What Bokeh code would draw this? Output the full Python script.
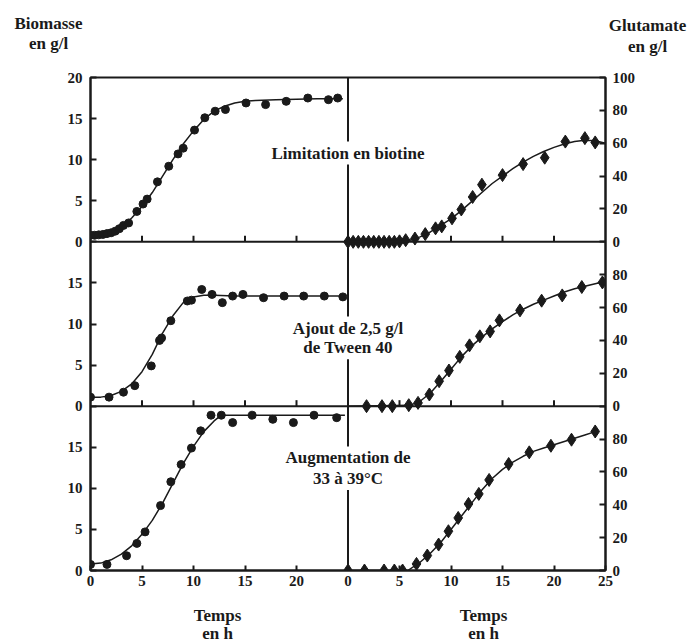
from bokeh.plotting import figure
from bokeh.models import Range1d, LinearAxis, FixedTicker, Span, Label
from bokeh.core.properties import value
from bokeh.embed import file_html
from bokeh.resources import INLINE

FONT = "Liberation Serif"
INK = "#1a1a1a"
TICK_FONT_SIZE = "15px"
TEXT_FONT_SIZE = "17px"

# ---------------- data ----------------
# Panel 1 : Limitation en biotine
t_bio1 = [0, 0.4, 0.8, 1.2, 1.6, 2.0, 2.4, 2.8, 3.2, 3.7, 4.5, 5.1, 5.5, 6.5, 7.6, 8.5, 9.0, 10.1, 11.1, 12.1, 13.1, 15.1, 17.0, 19.0, 21.1, 23.1, 24.0]
bio1 = [0.8, 0.8, 0.85, 0.9, 1.0, 1.1, 1.3, 1.6, 2.0, 2.3, 3.7, 4.6, 5.2, 7.3, 9.2, 10.7, 11.4, 13.6, 15.1, 15.9, 16.1, 16.9, 16.7, 17.1, 17.5, 17.3, 17.5]
tc_bio1 = [0, 1, 2, 3, 4, 5, 6, 7, 8, 9, 10, 11, 12, 13, 14, 15, 16, 18, 20, 22, 24.5]
c_bio1 = [0.8, 0.9, 1.2, 1.8, 2.9, 4.3, 6.0, 8.0, 10.0, 11.9, 13.5, 14.9, 15.9, 16.5, 16.9, 17.1, 17.2, 17.3, 17.35, 17.4, 17.4]

t_glu1 = [0, 0.5, 1.0, 1.5, 2.0, 2.5, 3.0, 3.5, 4.0, 4.5, 5.0, 5.6, 6.5, 7.5, 8.5, 9.1, 10.1, 11.0, 12.1, 13.0, 15.0, 17.0, 19.1, 21.1, 23.0, 24.0]
glu1 = [0, 0, 0, 0, 0, 0, 0, 0, 0, 0, 0.3, 1, 2, 4.7, 8.2, 9.4, 14.3, 19.7, 27.3, 34.8, 40.6, 47.3, 51.2, 61, 63.1, 60.5]
tc_glu1 = [0, 5.5, 6, 7, 8, 9, 10, 11, 12, 13, 14, 15, 16, 17, 18, 19, 20, 21, 22, 23, 24, 25]
c_glu1 = [0, 0, 1, 3, 6, 10, 14, 19, 24.5, 30, 35.5, 40, 44.5, 48.5, 52, 55, 57.5, 59.5, 61, 61.8, 61.5, 60]

# Panel 2 : Ajout de 2,5 g/l de Tween 40
t_bio2 = [0, 1.8, 3.2, 4.3, 5.9, 6.7, 6.9, 7.8, 9.4, 9.8, 10.8, 11.8, 12.8, 13.8, 14.8, 16.8, 18.8, 20.7, 22.7, 24.5]
bio2 = [1.1, 1.1, 1.7, 2.5, 4.9, 8.0, 8.3, 10.4, 12.8, 12.9, 14.2, 13.6, 12.6, 13.4, 13.6, 13.2, 13.4, 13.4, 13.4, 13.3]
tc_bio2 = [0, 1, 2, 3, 4, 5, 6, 7, 8, 9, 10, 11, 12, 14, 16, 20, 24.7]
c_bio2 = [1.1, 1.1, 1.3, 1.8, 2.7, 4.2, 6.3, 8.9, 11.0, 12.6, 13.3, 13.5, 13.5, 13.4, 13.4, 13.4, 13.4]

t_glu2 = [1.8, 3.3, 4.3, 5.9, 6.8, 7.9, 8.85, 9.8, 10.85, 11.8, 12.8, 13.8, 14.7, 16.7, 18.8, 20.8, 22.7, 24.7]
glu2 = [0, 0, 0, 0.6, 2, 7.1, 15.2, 21.7, 30, 37, 42.5, 45.5, 52.2, 58.3, 64.2, 67.4, 72.5, 75.3]
tc_glu2 = [0, 6, 7, 8, 9, 10, 11, 12, 13, 14, 15, 16, 17, 18, 19, 20, 21, 22, 23, 24, 25]
c_glu2 = [0, 0.5, 3, 8, 15, 22.5, 30, 36.5, 42, 47, 51.5, 55.5, 59, 62, 64.5, 67, 69.5, 71.5, 73, 74.5, 76]

# Panel 3 : Augmentation de 33 à 39°C
t_bio3 = [0, 1.6, 3.5, 4.5, 5.3, 6.8, 7.8, 8.8, 9.8, 10.7, 11.7, 12.7, 13.8, 15.7, 17.7, 19.7, 21.7, 23.9]
bio3 = [0.74, 0.74, 1.8, 3.3, 4.7, 7.9, 10.8, 12.9, 14.9, 17.0, 18.9, 18.9, 18.0, 18.9, 18.4, 18.0, 18.9, 18.6]
tc_bio3 = [0, 1, 2, 3, 4, 5, 6, 7, 8, 9, 10, 11, 12, 12.7, 14, 16, 18, 20, 22, 24.7]
c_bio3 = [0.8, 0.9, 1.3, 2.0, 3.0, 4.4, 6.1, 8.2, 10.6, 13.0, 15.1, 16.9, 18.2, 18.9, 18.9, 18.9, 18.9, 18.9, 18.9, 18.9]

t_glu3 = [0, 1.6, 3.5, 4.5, 5.3, 6.65, 7.7, 8.8, 9.75, 10.7, 11.7, 12.7, 13.7, 15.6, 17.6, 19.7, 21.7, 24.0]
glu3 = [0, 0, 0, 0, 0, 4, 9.1, 15.8, 23.9, 32, 40.5, 46.6, 55.1, 64.8, 71.9, 75.9, 79.6, 84.6]
tc_glu3 = [0, 5.8, 7, 8, 9, 10, 11, 12, 13, 14, 15, 16, 17, 18, 19, 20, 21, 22, 23, 24]
c_glu3 = [0, 0, 5, 10.5, 17, 25, 33, 41, 49, 56, 61.5, 66, 69.5, 72.5, 74.5, 76.5, 78.5, 80.5, 82.5, 84.5]

# tick labels
time_ticks_left = [0, 5, 10, 15, 20]
time_ticks_right = [0, 5, 10, 15, 20, 25]
bio_ticks = [[0, 5, 10, 15, 20], [0, 5, 10, 15], [0, 5, 10, 15]]    # top, middle, bottom
glu_ticks = [[0, 20, 40, 60, 80, 100], [0, 20, 40, 60, 80], [0, 20, 40, 60, 80]]

panel_texts = [["Limitation en biotine"], ["Ajout de 2,5 g/l", "de Tween 40"], ["Augmentation de", "33 à 39°C"]]
panel_text_y = [[10.8], [9.5, 7.1], [13.7, 11.2]]

bio_axis_title = ["Biomasse", "en g/l"]
glu_axis_title = ["Glutamate", "en g/l"]
time_axis_title = ["Temps", "en h"]

# ---------------- layout constants ----------------
W = 688
T_SPAN = 25          # width of each half in hours
B_SPAN = 20          # biomass range of one panel
G_SPAN = 100         # glutamate range of one panel
N_PANELS = 3
TICK_LEN = 6 / (493 / (N_PANELS * B_SPAN))   # 6 px in stacked biomass units


def style_axis(ax, standoff=7):
    ax.major_tick_in = 6
    ax.major_tick_out = 0
    ax.minor_tick_line_color = None
    ax.axis_line_width = 2
    ax.axis_line_color = INK
    ax.major_tick_line_width = 2
    ax.major_tick_line_color = INK
    ax.major_label_standoff = standoff
    ax.major_label_text_font = FONT
    ax.major_label_text_font_style = "bold"
    ax.major_label_text_font_size = TICK_FONT_SIZE
    ax.major_label_text_color = INK


# ---------------- main figure (three stacked panels) ----------------
p = figure(width=W, height=540, x_range=Range1d(0, 2 * T_SPAN), y_range=Range1d(0, N_PANELS * B_SPAN),
           output_backend="svg", toolbar_location=None,
           x_axis_location=None, y_axis_location=None,
           min_border_left=90, min_border_right=83, min_border_top=17, min_border_bottom=30)
p.grid.visible = False
p.outline_line_color = INK
p.outline_line_width = 2
p.background_fill_color = "white"
p.border_fill_color = "white"

p.extra_x_ranges = {"g": Range1d(-T_SPAN, T_SPAN)}
p.extra_y_ranges = {
    "b1": Range1d(-2 * B_SPAN, B_SPAN), "b2": Range1d(-B_SPAN, 2 * B_SPAN),
    "g1": Range1d(-2 * G_SPAN, G_SPAN), "g2": Range1d(-G_SPAN, 2 * G_SPAN), "g3": Range1d(0, 3 * G_SPAN),
}

# left axis (biomass, stacked)
l_pos, l_lab = [], {}
for k, ticks in enumerate(bio_ticks):
    off = (N_PANELS - 1 - k) * B_SPAN
    for t in ticks:
        l_pos.append(off + t)
        l_lab[off + t] = str(t)
la = LinearAxis(ticker=FixedTicker(ticks=l_pos), major_label_overrides=l_lab)
style_axis(la, 8)
p.add_layout(la, "left")

# right axis (glutamate, stacked)
r_pos, r_lab = [], {}
for k, ticks in enumerate(glu_ticks):
    off = (N_PANELS - 1 - k) * G_SPAN
    for t in ticks:
        r_pos.append(off + t)
        r_lab[off + t] = str(t)
ra = LinearAxis(ticker=FixedTicker(ticks=r_pos), major_label_overrides=r_lab, y_range_name="g3")
style_axis(ra, 7)
p.add_layout(ra, "right")

# bottom axis (time, two halves)
x_pos = list(time_ticks_left) + [T_SPAN + t for t in time_ticks_right]
x_lab = {t: str(t) for t in time_ticks_left}
x_lab.update({T_SPAN + t: str(t) for t in time_ticks_right})
ba = LinearAxis(ticker=FixedTicker(ticks=x_pos), major_label_overrides=x_lab)
style_axis(ba, 5)
ba.major_tick_in = 5
p.add_layout(ba, "below")

# panel separators and central divider
for k in range(1, N_PANELS):
    p.add_layout(Span(location=k * B_SPAN, dimension="width", line_color=INK, line_width=2))
p.add_layout(Span(location=T_SPAN, dimension="height", line_color=INK, line_width=2))

# time ticks on the inner panel boundaries
inner_x = [x for x in x_pos if 0 < x < 2 * T_SPAN and x != T_SPAN]
for k in range(1, N_PANELS):
    base = k * B_SPAN
    p.segment(x0=inner_x, y0=[base] * len(inner_x), x1=inner_x, y1=[base + TICK_LEN] * len(inner_x),
              line_color=INK, line_width=2)

panels = [
    ("b1", "g1", t_bio1, bio1, tc_bio1, c_bio1, t_glu1, glu1, tc_glu1, c_glu1),
    ("b2", "g2", t_bio2, bio2, tc_bio2, c_bio2, t_glu2, glu2, tc_glu2, c_glu2),
    ("default", "g3", t_bio3, bio3, tc_bio3, c_bio3, t_glu3, glu3, tc_glu3, c_glu3),
]

for k, (bname, gname, tb, b, tcb, cb, tg, g, tcg, cg) in enumerate(panels):
    p.line(tcb, cb, line_color=INK, line_width=1.5, y_range_name=bname)
    p.scatter(tb, b, marker="circle", size=8, fill_color=INK, line_color=INK, y_range_name=bname)
    p.line(tcg, cg, line_color=INK, line_width=1.5, x_range_name="g", y_range_name=gname)
    p.scatter(tg, g, marker="diamond", size=13, fill_color=INK, line_color=INK,
              x_range_name="g", y_range_name=gname)
    # lower lines first so that the upper line's descenders stay on top
    for txt, ty in reversed(list(zip(panel_texts[k], panel_text_y[k]))):
        p.add_layout(Label(x=T_SPAN, y=ty, y_range_name=bname, text=txt,
                           text_align="center", text_baseline="middle",
                           text_font=FONT, text_font_style="bold", text_font_size=TEXT_FONT_SIZE,
                           text_color=INK, background_fill_color="white", padding=2))


# ---------------- header and footer (axis titles), independent roots ----------------
def text_strip(height, y_top, xs, ys, texts):
    f = figure(width=W, height=height, x_range=Range1d(0, W), y_range=Range1d(y_top + height, y_top),
               output_backend="svg", toolbar_location=None,
               x_axis_location=None, y_axis_location=None, min_border=0)
    f.grid.visible = False
    f.outline_line_color = None
    f.text(x=xs, y=ys, text=texts, text_align="center", text_baseline="middle",
           text_font=value(FONT), text_font_style="bold", text_font_size=TEXT_FONT_SIZE, text_color=INK)
    return f


header = text_strip(60, 0, [48, 48, 647, 647], [23, 43, 25, 46],
                    [bio_axis_title[0], bio_axis_title[1], glu_axis_title[0], glu_axis_title[1]])
footer = text_strip(42, 600, [217, 217, 483, 483], [615, 633, 615, 633],
                    [time_axis_title[0], time_axis_title[1], time_axis_title[0], time_axis_title[1]])

open("out.html", "w").write(file_html([header, p, footer], INLINE))
